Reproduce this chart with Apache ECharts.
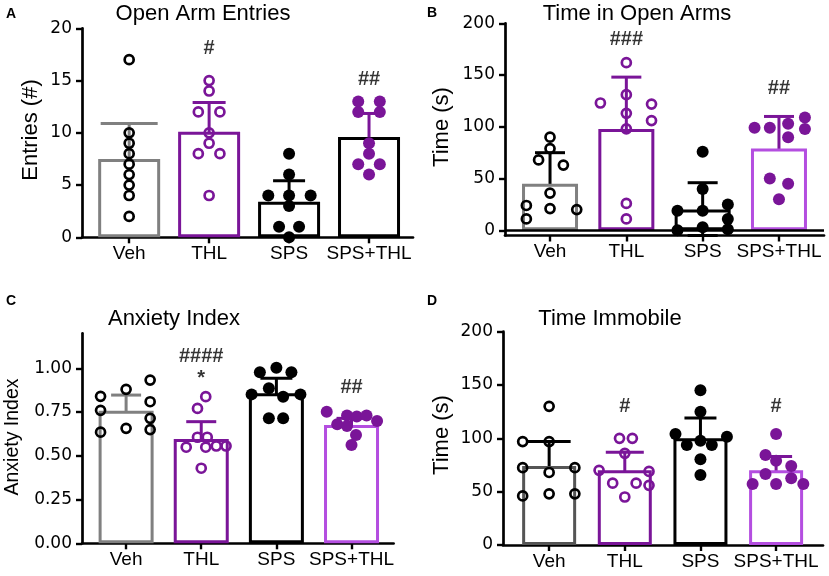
<!DOCTYPE html>
<html>
<head>
<meta charset="utf-8">
<script src="https://cdn.jsdelivr.net/npm/echarts@6/dist/echarts.min.js"></script>
<style>
  html, body { margin: 0; padding: 0; background: #fff; }
  #main { width: 829px; height: 576px; }
</style>
</head>
<body>
<div id="main"></div>
<script>
// groups on every x axis
const groups = ['Veh', 'THL', 'SPS', 'SPS+THL'];

// A - open arm entries (one value per animal)
const aVeh = [17, 10, 9, 8, 7, 6, 5, 4, 2];
const aThl = [15, 14, 12, 12, 10, 9, 8, 8, 4];
const aSps = [8, 6, 4, 4, 4, 3, 1, 1, 0];
const aSpsThl = [13, 13, 12, 12, 9, 8, 7, 7, 6];
const aMean = [7.5, 10.1, 3.4, 9.6];
const aErrHi = [10.9, 12.9, 5.4, 11.85];
const aErrLo = [4.25, 7.7, 1.35, 7.45];
const aNotes = [[1, 18.1, '#'], [3, 15.1, '##']];
const aTicks = [0, 5, 10, 15, 20];

// B - time in open arms (s)
const bVeh = [90, 79, 68, 63, 36, 24, 21, 20, 11];
const bThl = [162, 131, 123, 122, 113, 106, 98, 26, 11];
const bSps = [76, 40, 25, 19, 19, 11, 3, 1, 0];
const bSpsThl = [99, 99, 103, 109, 98, 90, 50, 45, 30];
const bMean = [45, 98, 20, 79];
const bErrHi = [75, 148, 46, 110];
const bErrLo = [16, 50, -5, 51];
const bNotes = [[1, 184, '###'], [3, 137, '##']];
const bTicks = [0, 50, 100, 150, 200];

// C - anxiety index
const cVeh = [0.84, 0.76, 0.635, 0.88, 0.657, 0.933, 0.809, 0.714, 0.65];
const cThl = [0.838, 0.771, 0.606, 0.606, 0.549, 0.549, 0.556, 0.556, 0.429];
const cSps = [1.003, 0.977, 0.977, 0.886, 0.851, 0.851, 0.838, 0.714, 0.714];
const cSpsThl = [0.752, 0.73, 0.725, 0.73, 0.68, 0.67, 0.699, 0.619, 0.562];
const cMean = [0.758, 0.596, 0.857, 0.676];
const cErrHi = [0.847, 0.695, 0.943, 0.714];
const cErrLo = [0.68, 0.514, 0.78, 0.634];
const cNotes = [[1, 1.066, '####'], [1, 0.94, '*'], [3, 0.889, '##']];
const cTicks = [0, 0.25, 0.5, 0.75, 1];

// D - time immobile (s)
const dVeh = [130, 97, 97, 72.5, 72.5, 68, 46, 48, 48];
const dThl = [100, 100, 86, 70, 69, 58, 58, 56, 45];
const dSps = [145, 125, 104, 101.5, 97.8, 93.8, 93.8, 80.3, 65.6];
const dSpsThl = [104, 84.4, 79, 74, 66.6, 62.5, 57.2, 57.2, 57.2];
const dMean = [74, 70, 100, 70];
const dErrHi = [97, 87, 119, 83];
const dErrLo = [55, 58, 83, 61];
const dNotes = [[1, 130, '#'], [3, 130, '#']];
const dTicks = [0, 50, 100, 150, 200];

// horizontal scatter of the dots inside a group (in group units)
const aDx = [[0, 0, 0, 0, 0, 0, 0, 0, 0],
             [0, 0, -0.135, 0.135, 0, 0, -0.135, 0.135, 0],
             [0, 0, -0.26, 0, 0.27, 0, -0.125, 0.125, 0],
             [-0.135, 0.135, -0.135, 0.135, 0, 0, -0.135, 0.135, 0]];
const bDx = [[0, 0, -0.15, 0.175, 0, -0.31, 0, 0.35, -0.31],
             [0, 0, -0.34, 0.33, 0, 0.33, 0, 0, 0],
             [0, 0, 0.33, -0.33, 0, 0.33, 0, 0.33, -0.33],
             [-0.32, -0.12, 0.12, 0.34, 0.34, 0.12, -0.12, 0.12, 0]];
const cDx = [[-0.34, -0.34, -0.34, 0, 0, 0.32, 0.32, 0.32, 0.32],
             [0.06, -0.05, -0.05, 0.08, -0.2, 0.06, 0.2, 0.33, 0],
             [0, -0.22, 0.2, -0.1, -0.33, 0.32, 0.09, -0.1, 0.09],
             [-0.33, -0.06, 0.07, 0.2, -0.19, -0.06, 0.34, 0.06, 0]];
const dDx = [[0, -0.35, 0, -0.35, 0.34, 0, -0.35, 0.34, 0],
             [-0.07, 0.1, 0, -0.34, 0.32, -0.16, 0.15, 0.32, 0],
             [0, 0, -0.33, 0.35, 0, -0.18, 0.15, 0, 0],
             [0, -0.14, 0, 0.2, -0.14, 0.2, -0.31, 0, 0.36]];

const FONT = '"Liberation Sans", Arial, Helvetica, sans-serif';
const NUMFONT = '"DejaVu Sans", "Liberation Sans", sans-serif';
const GRAY = '#808080', DKGRAY = '#555555', PURPLE = '#7a1598', LILAC = '#b44ee0', BLACK = '#000000';

const panels = [
  { grid: { left: 82, top: 28.3, width: 331, height: 209 }, xMin: -0.59, xMax: 3.55,
    yMin: 0, yMax: 20, yTicks: aTicks, yFmt: v => String(v), barW: 62,
    barColors: [GRAY, PURPLE, BLACK, BLACK], errColors: [GRAY, PURPLE, BLACK, PURPLE], capPx: [57, 33, 32, 28],
    pts: [aVeh, aThl, aSps, aSpsThl], dx: aDx, mean: aMean, hi: aErrHi, lo: aErrLo, notes: aNotes, zero: false },
  { grid: { left: 505, top: 23.3, width: 319, height: 212.2 }, xMin: -0.59, xMax: 3.59,
    yMin: -5, yMax: 200, yTicks: bTicks, yFmt: v => String(v), barW: 56,
    barColors: [GRAY, PURPLE, BLACK, LILAC], errColors: [BLACK, PURPLE, BLACK, PURPLE], capPx: [30, 30, 30, 30],
    pts: [bVeh, bThl, bSps, bSpsThl], dx: bDx, mean: bMean, hi: bErrHi, lo: bErrLo, notes: bNotes, zero: true },
  { grid: { left: 82, top: 333.3, width: 311.6, height: 210 }, xMin: -0.587, xMax: 3.56,
    yMin: 0, yMax: 1.2, yTicks: cTicks, yFmt: v => v.toFixed(2), barW: 55,
    barColors: [GRAY, PURPLE, BLACK, LILAC], errColors: [GRAY, PURPLE, BLACK, PURPLE], capPx: [30, 30, 32, 30],
    pts: [cVeh, cThl, cSps, cSpsThl], dx: cDx, mean: cMean, hi: cErrHi, lo: cErrLo, notes: cNotes, zero: false },
  { grid: { left: 503, top: 331.7, width: 320, height: 213.3 }, xMin: -0.61, xMax: 3.62,
    yMin: 0, yMax: 200, yTicks: dTicks, yFmt: v => String(v), barW: 54,
    barColors: [DKGRAY, PURPLE, BLACK, LILAC], errColors: [BLACK, PURPLE, BLACK, PURPLE], capPx: [43, 38, 32, 32],
    pts: [dVeh, dThl, dSps, dSpsThl], dx: dDx, mean: dMean, hi: dErrHi, lo: dErrLo, notes: dNotes, zero: false }
];

// dot look per group: open black, open purple, filled black, filled purple
const dotStyle = [
  { size: 9, color: 'rgba(255,255,255,0)', border: BLACK, bw: 2.7 },
  { size: 9, color: 'rgba(255,255,255,0)', border: PURPLE, bw: 2.7 },
  { size: 12, color: BLACK, border: BLACK, bw: 0 },
  { size: 12, color: PURPLE, border: PURPLE, bw: 0 }
];

const grids = [], xAxes = [], yAxes = [], series = [];

panels.forEach(function (p, k) {
  grids.push(Object.assign({ containLabel: false, outerBoundsMode: 'none' }, p.grid));
  xAxes.push({
    type: 'value', gridIndex: k, min: p.xMin, max: p.xMax,
    splitLine: { show: false },
    axisLine: { show: true, onZero: false, lineStyle: { color: BLACK, width: 2.7 } },
    axisTick: { show: true, customValues: [0, 1, 2, 3], length: 6, lineStyle: { color: BLACK, width: 2.4 } },
    axisLabel: { customValues: [0, 1, 2, 3], formatter: v => groups[Math.round(v)],
      color: BLACK, fontSize: 19, fontFamily: FONT, margin: 7 }
  });
  yAxes.push({
    type: 'value', gridIndex: k, min: p.yMin, max: p.yMax,
    splitLine: { show: false },
    axisLine: { show: true, onZero: false, lineStyle: { color: BLACK, width: 2.7 } },
    axisTick: { show: true, customValues: p.yTicks, length: 6, lineStyle: { color: BLACK, width: 2.4 } },
    axisLabel: { customValues: p.yTicks, formatter: p.yFmt, color: BLACK, fontSize: 17, fontFamily: NUMFONT, margin: 10 }
  });

  // bars (group means)
  const bar = {
    type: 'bar', xAxisIndex: k, yAxisIndex: k, barWidth: p.barW, silent: true,
    data: p.mean.map((m, i) => ({ value: [i, m],
      itemStyle: { color: '#fff', borderColor: p.barColors[i], borderWidth: 3 } }))
  };
  if (p.zero) {
    bar.markLine = { silent: true, symbol: 'none', label: { show: false },
      lineStyle: { color: BLACK, width: 2.5, type: 'solid' }, data: [{ yAxis: 0 }] };
  }
  series.push(bar);

  // error bars
  series.push({
    type: 'custom', xAxisIndex: k, yAxisIndex: k, silent: true,
    data: p.mean.map((m, i) => [i, p.hi[i], p.lo[i]]),
    renderItem: function (params, api) {
      const i = api.value(0);
      const top = api.coord([i, api.value(1)]);
      const bot = api.coord([i, api.value(2)]);
      const h = p.capPx[i] / 2;
      const st = { stroke: p.errColors[i], lineWidth: 3 };
      return { type: 'group', children: [
        { type: 'line', shape: { x1: top[0], y1: top[1], x2: bot[0], y2: bot[1] }, style: st },
        { type: 'line', shape: { x1: top[0] - h, y1: top[1], x2: top[0] + h, y2: top[1] }, style: st },
        { type: 'line', shape: { x1: bot[0] - h, y1: bot[1], x2: bot[0] + h, y2: bot[1] }, style: st }
      ] };
    }
  });

  // individual animals
  p.pts.forEach(function (vals, g) {
    const s = dotStyle[g];
    series.push({
      type: 'scatter', xAxisIndex: k, yAxisIndex: k, silent: true, clip: false,
      symbol: 'circle', symbolSize: s.size,
      itemStyle: { color: s.color, borderColor: s.border, borderWidth: s.bw, opacity: 1 },
      data: vals.map((v, j) => [g + p.dx[g][j], v])
    });
  });

  // significance marks
  series.push({
    type: 'scatter', xAxisIndex: k, yAxisIndex: k, silent: true, clip: false, symbolSize: 0,
    data: p.notes,
    label: { show: true, position: 'inside', formatter: q => q.value[2],
      color: BLACK, fontSize: 20, fontWeight: 'bold', fontFamily: FONT }
  });
});

function txt(s, x, y, size, bold, rot) {
  return { type: 'text', x: x, y: y, rotation: rot || 0, silent: true,
    style: { text: s, fill: BLACK, font: (bold ? 'bold ' : '') + size + 'px ' + FONT,
      align: 'center', verticalAlign: 'middle' } };
}

const chart = echarts.init(document.getElementById('main'));
chart.setOption({
  animation: false,
  backgroundColor: '#fff',
  grid: grids,
  xAxis: xAxes,
  yAxis: yAxes,
  series: series,
  graphic: [
    txt('A', 11, 14, 14, true), txt('B', 432, 13, 14, true),
    txt('C', 11, 301, 14, true), txt('D', 432, 301, 14, true),
    txt('Open Arm Entries', 203, 14, 22), txt('Time in Open Arms', 637, 14, 22),
    txt('Anxiety Index', 174, 319, 22), txt('Time Immobile', 610, 319, 22),
    txt('Entries (#)', 31, 130, 22, false, Math.PI / 2),
    txt('Time (s)', 442, 127, 22, false, Math.PI / 2),
    txt('Anxiety Index', 13, 437, 19.5, false, Math.PI / 2),
    txt('Time (s)', 442, 435, 22, false, Math.PI / 2)
  ]
});
window.onresize = function () { chart.resize(); };
</script>
</body>
</html>
